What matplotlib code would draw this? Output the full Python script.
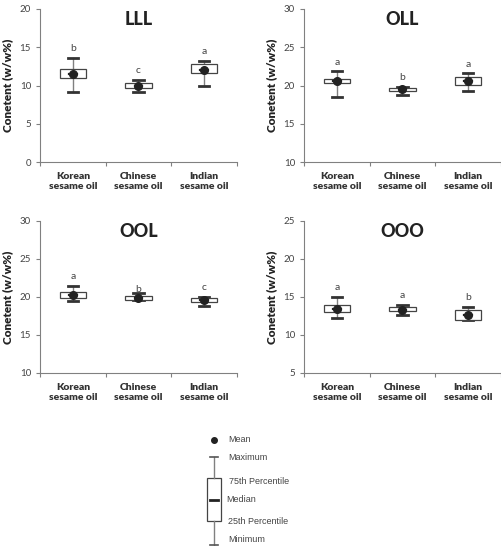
import matplotlib
matplotlib.use("Agg")
import matplotlib.pyplot as plt
from matplotlib.patches import Rectangle

plt.rcParams['font.family'] = ['Lato', 'DejaVu Sans']

categories = ["Korean\nsesame oil", "Chinese\nsesame oil", "Indian\nsesame oil"]
titles = ["LLL", "OLL", "OOL", "OOO"]
ylims = [(0, 20), (10, 30), (10, 30), (5, 25)]

# per panel: [Korean, Chinese, Indian]
mins = [[9.1, 9.1, 9.98], [18.53, 18.7, 19.32], [19.45, 19.6, 18.88], [12.18, 12.6, 11.96]]
q1s = [[10.95, 9.63, 11.64], [20.28, 19.23, 20.1], [19.89, 19.67, 19.32], [13.0, 13.1, 12.0]]
medians = [[11.5, 9.98, 12.0], [20.55, 19.5, 20.55], [20.28, 19.85, 19.63], [13.4, 13.3, 12.6]]
q3s = [[12.1, 10.28, 12.82], [20.9, 19.67, 21.07], [20.68, 20.1, 19.89], [13.93, 13.67, 13.23]]
maxs = [[13.57, 10.68, 13.26], [21.86, 19.76, 21.68], [21.47, 20.55, 19.98], [14.98, 13.93, 13.67]]
means = [[11.5, 9.98, 12.0], [20.55, 19.5, 20.55], [20.28, 19.85, 19.63], [13.4, 13.3, 12.6]]
letters = [["b", "c", "a"], ["a", "b", "a"], ["a", "b", "c"], ["a", "a", "b"]]
letter_y = [[14.9, 11.9, 14.5], [23.0, 21.1, 22.8], [22.7, 21.0, 21.25], [16.25, 15.24, 14.9]]

W, H = 502, 546
fig = plt.figure(figsize=(W / 100, H / 100), dpi=100)

# axes boxes in pixels: (left, top, right, bottom)
boxes = [(40, 9, 237, 162), (304, 9, 501, 162), (40, 221, 237, 373), (304, 221, 501, 373)]

gray = "#808080"
dark = "#333333"

for i, (l, t, r, b) in enumerate(boxes):
    ax = fig.add_axes([l / W, 1 - b / H, (r - l) / W, (b - t) / H])
    ax.set_xlim(-0.5, 2.5)
    ax.set_ylim(*ylims[i])
    for s in ["top", "right"]:
        ax.spines[s].set_visible(False)
    for s in ["left", "bottom"]:
        ax.spines[s].set_color(gray)
        ax.spines[s].set_linewidth(0.8)
    lo, hi = ylims[i]
    ax.set_yticks(range(lo, hi + 1, 5))
    ax.tick_params(axis="y", labelsize=7, colors=gray, labelcolor="#444444", length=3, width=0.8)
    ax.set_xticks([-0.5, 0.5, 1.5, 2.5])
    ax.set_xticklabels([])
    ax.tick_params(axis="x", which="major", length=3, width=0.8, colors=gray)
    ax.set_xticks([0, 1, 2], minor=True)
    ax.set_xticklabels(categories, minor=True, fontsize=7.5, fontweight="heavy", color="#333333",
                       linespacing=1.2)
    ax.tick_params(axis="x", which="minor", length=0, pad=7)
    ax.set_ylabel("Conetent (w/w%)", fontsize=8.5, fontweight="heavy", color="#222222", labelpad=5)
    ax.set_title(titles[i], fontsize=13, fontweight="black", color="#222222", y=0.84)

    bw = 0.4
    for j in range(3):
        # whiskers
        ax.plot([j, j], [mins[i][j], q1s[i][j]], color=gray, lw=1.0, zorder=2)
        ax.plot([j, j], [q3s[i][j], maxs[i][j]], color=gray, lw=1.0, zorder=2)
        ax.plot([j - 0.08, j + 0.08], [mins[i][j]] * 2, color=dark, lw=2.0, zorder=3)
        ax.plot([j - 0.08, j + 0.08], [maxs[i][j]] * 2, color=dark, lw=2.0, zorder=3)
        ax.add_patch(Rectangle((j - bw / 2, q1s[i][j]), bw, q3s[i][j] - q1s[i][j],
                               facecolor="white", edgecolor="#444444", lw=0.9, zorder=3))
        ax.plot([j - 0.06, j + 0.06], [medians[i][j]] * 2, color="#222222", lw=1.6, zorder=4)
        ax.plot([j], [means[i][j]], marker="o", ms=5.5, color="#222222", zorder=5, ls="none")
        ax.text(j, letter_y[i][j], letters[i][j], ha="center", va="center",
                fontsize=7.5, color="#444444")

# legend drawn in pixel coordinates
lax = fig.add_axes([0, 0, 1, 1])
lax.set_xlim(0, W)
lax.set_ylim(H, 0)
lax.axis("off")
lf = ['Liberation Sans', 'DejaVu Sans']
lx = 214
lax.plot([lx], [440], marker="o", ms=4, color="#222222")
lax.plot([lx, lx], [457, 478], color=gray, lw=1.0)
lax.plot([lx, lx], [521, 545], color=gray, lw=1.0)
lax.plot([lx - 4, lx + 4], [457, 457], color="#555555", lw=1.2)
lax.plot([lx - 4, lx + 4], [545, 545], color="#555555", lw=1.2)
lax.add_patch(Rectangle((lx - 7, 478), 14, 43, facecolor="white", edgecolor="#444444", lw=0.9))
lax.plot([lx - 4, lx + 4], [500, 500], color="#222222", lw=2.0)
legend_texts = [("Mean", 228, 440), ("Maximum", 228, 457), ("75th Percentile", 229, 481),
                ("Median", 226, 500), ("25th Percentile", 228, 521), ("Minimum", 228, 540)]
for txt, x, y in legend_texts:
    lax.text(x, y, txt, fontsize=6.5, va="center", color="#444444", family=lf)

fig.savefig("out.png", dpi=100)
